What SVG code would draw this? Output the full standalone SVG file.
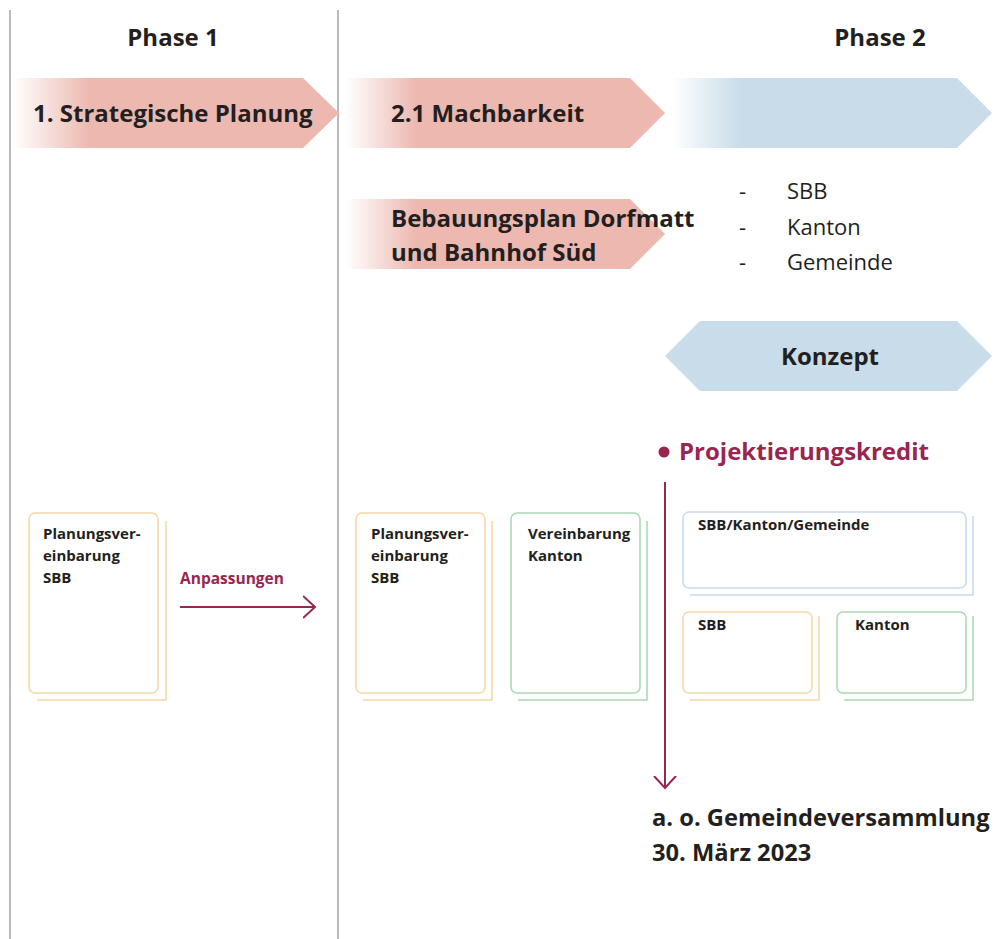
<svg xmlns="http://www.w3.org/2000/svg" width="1006" height="939" viewBox="0 0 1006 939">
<style>
.t{font-family:"Open Sans","Noto Sans",sans-serif;fill:#231f20}
.b{font-weight:bold}
.red{fill:#98264f}
.vline{stroke:#8c8c8c;stroke-width:1.2}
.card{fill:#fff;stroke-width:1.6}
.sh{fill:none;stroke-width:1.6}
.or{stroke:#f5d8a8}
.gr{stroke:#abd9b3}
.bl{stroke:#c8dbee}
.con{stroke:#98264f;stroke-width:2;fill:none}
</style>
<defs>
<linearGradient id="gp1" gradientUnits="userSpaceOnUse" x1="13" y1="0" x2="90" y2="0">
<stop offset="0" stop-color="#ecb8b0" stop-opacity="0"/><stop offset="1" stop-color="#ecb8b0"/></linearGradient>
<linearGradient id="gp2" gradientUnits="userSpaceOnUse" x1="346" y1="0" x2="416" y2="0">
<stop offset="0" stop-color="#ecb8b0" stop-opacity="0"/><stop offset="1" stop-color="#ecb8b0"/></linearGradient>
<linearGradient id="gb" gradientUnits="userSpaceOnUse" x1="672" y1="0" x2="740" y2="0">
<stop offset="0" stop-color="#c9dcea" stop-opacity="0"/><stop offset="1" stop-color="#c9dcea"/></linearGradient>
<marker id="ah" markerWidth="14" markerHeight="24" refX="12" refY="12" orient="auto" markerUnits="userSpaceOnUse">
<path d="M0,1 L12,12 L0,23" fill="none" stroke="#98264f" stroke-width="2"/></marker>
</defs>
<line class="vline" x1="10" y1="10" x2="10" y2="939"/>
<line class="vline" x1="338" y1="10" x2="338" y2="939"/>
<g id="phase1"><text class="t b" x="173" y="46" font-size="24" text-anchor="middle">Phase 1</text></g>
<g id="phase2"><text class="t b" x="880" y="46" font-size="24" text-anchor="middle">Phase 2</text></g>
<g id="strategische">
<path d="M13,78 H303 L339,113 L303,148 H13 Z" fill="url(#gp1)"/>
<text class="t b" x="33" y="122" font-size="24">1. Strategische Planung</text>
</g>
<g id="machbarkeit">
<path d="M346,78 H630 L665,113 L630,148 H346 Z" fill="url(#gp2)"/>
<text class="t b" x="391" y="122" font-size="24">2.1 Machbarkeit</text>
</g>
<g id="phase2-arrow">
<path d="M672,78 H957 L992,113 L957,148 H672 Z" fill="url(#gb)"/>
</g>
<g id="bebauungsplan">
<path d="M346,199 H630 L665,234 L630,269 H346 Z" fill="url(#gp2)"/>
<text class="t b" x="391" y="227" font-size="24">Bebauungsplan Dorfmatt</text>
<text class="t b" x="391" y="261" font-size="24">und Bahnhof Süd</text>
</g>
<g id="beteiligte">
<text class="t" x="739" y="199" font-size="22">-</text><text class="t" x="787" y="199" font-size="22">SBB</text>
<text class="t" x="739" y="235" font-size="22">-</text><text class="t" x="787" y="235" font-size="22">Kanton</text>
<text class="t" x="739" y="270" font-size="22">-</text><text class="t" x="787" y="270" font-size="22">Gemeinde</text>
</g>
<g id="konzept">
<path d="M665,356 L700,321 H957 L992,356 L957,391 H700 Z" fill="#c9dcea"/>
<text class="t b" x="830" y="365" font-size="24" text-anchor="middle">Konzept</text>
</g>
<g id="projektierungskredit">
<circle cx="664" cy="452" r="5.5" fill="#98264f"/>
<text class="t b red" x="679" y="460" font-size="24">Projektierungskredit</text>
</g>
<g id="card-pv-sbb-1">
<path class="sh or" d="M166,521 V700 H37"/>
<rect class="card or" x="29" y="513" width="129" height="180" rx="6"/>
<text class="t b" x="43" y="539" font-size="15">Planungsver-</text>
<text class="t b" x="43" y="561" font-size="15">einbarung</text>
<text class="t b" x="43" y="583" font-size="15">SBB</text>
</g>
<g id="card-pv-sbb-2">
<path class="sh or" d="M492,521 V700 H363"/>
<rect class="card or" x="356" y="513" width="129" height="180" rx="6"/>
<text class="t b" x="371" y="539" font-size="15">Planungsver-</text>
<text class="t b" x="371" y="561" font-size="15">einbarung</text>
<text class="t b" x="371" y="583" font-size="15">SBB</text>
</g>
<g id="card-vereinbarung-kanton">
<path class="sh gr" d="M647,521 V700 H518"/>
<rect class="card gr" x="511" y="513" width="129" height="180" rx="6"/>
<text class="t b" x="528" y="539" font-size="15">Vereinbarung</text>
<text class="t b" x="528" y="561" font-size="15">Kanton</text>
</g>
<g id="card-sbb-kanton-gemeinde">
<path class="sh bl" d="M973,516 V595 H690"/>
<rect class="card bl" x="683" y="512" width="283" height="76" rx="6"/>
<text class="t b" x="698" y="530" font-size="15">SBB/Kanton/Gemeinde</text>
</g>
<g id="card-sbb">
<path class="sh or" d="M819,616 V700 H690"/>
<rect class="card or" x="683" y="612" width="129" height="81" rx="6"/>
<text class="t b" x="698" y="630" font-size="15">SBB</text>
</g>
<g id="card-kanton">
<path class="sh gr" d="M973,616 V700 H844"/>
<rect class="card gr" x="837" y="612" width="129" height="81" rx="6"/>
<text class="t b" x="855" y="630" font-size="15">Kanton</text>
</g>
<g id="anpassungen-label"><text class="t b red" x="180" y="584" font-size="15.5">Anpassungen</text></g>
<g id="gemeindeversammlung">
<text class="t b" x="652" y="826" font-size="23.7">a. o. Gemeindeversammlung</text>
<text class="t b" x="652" y="861" font-size="23.7">30. März 2023</text>
</g>
<g id="connectors">
<line class="con" x1="180" y1="607" x2="315" y2="607" marker-end="url(#ah)"/>
<line class="con" x1="665" y1="482" x2="665" y2="788" marker-end="url(#ah)"/>
</g>
</svg>
